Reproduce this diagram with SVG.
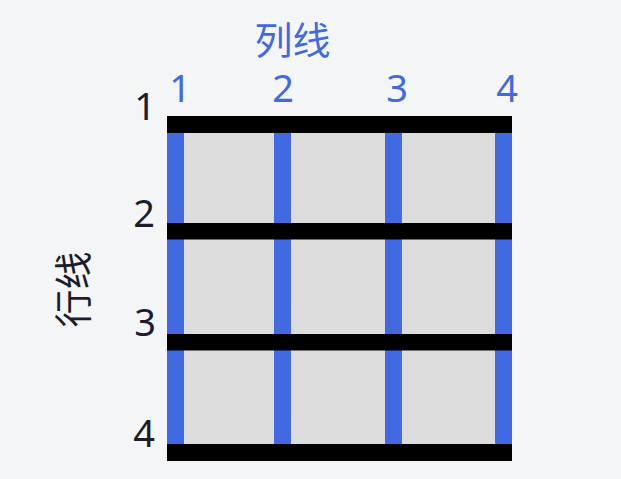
<svg xmlns="http://www.w3.org/2000/svg" width="621" height="479" viewBox="0 0 621 479">
<style>
.col{fill:#4169e1}
.row{fill:#000}
.lbl{font-family:"Noto Sans","Liberation Sans",sans-serif;font-size:38px;text-anchor:middle}
.blue{fill:#4169e1}
.dark{fill:#1c1c2c}
.cjk{font-family:"Noto Sans CJK SC","Noto Sans",sans-serif;font-size:38px;text-anchor:middle;dominant-baseline:central}
</style>
<rect width="621" height="479" fill="#f4f5f7"/>
<g id="grid">
<rect x="167" y="116" width="345" height="345" fill="#dcdcdc"/>
</g>
<g id="connectors">
<rect class="col" x="167" y="116" width="17" height="345"/>
<rect class="col" x="274" y="116" width="17" height="345"/>
<rect class="col" x="385" y="116" width="17" height="345"/>
<rect class="col" x="495" y="116" width="17" height="345"/>
<rect class="row" x="167" y="116" width="345" height="17"/>
<rect class="row" x="167" y="223" width="345" height="16.5"/>
<rect class="row" x="167" y="334" width="345" height="16.5"/>
<rect class="row" x="167" y="444" width="345" height="17"/>
</g>
<g id="col-labels">
<text class="lbl blue" x="180" y="102">1</text>
<text class="lbl blue" x="283" y="102">2</text>
<text class="lbl blue" x="397" y="102">3</text>
<text class="lbl blue" x="507" y="102">4</text>
</g>
<g id="row-labels">
<text class="lbl dark" x="145" y="120">1</text>
<text class="lbl dark" x="144" y="227">2</text>
<text class="lbl dark" x="145" y="336">3</text>
<text class="lbl dark" x="144" y="447">4</text>
</g>
<g id="titles">
<text class="cjk blue" x="292.5" y="37">列线</text>
<text class="cjk dark" x="0" y="0" transform="translate(70,289.5) rotate(-90)">行线</text>
</g>
</svg>
